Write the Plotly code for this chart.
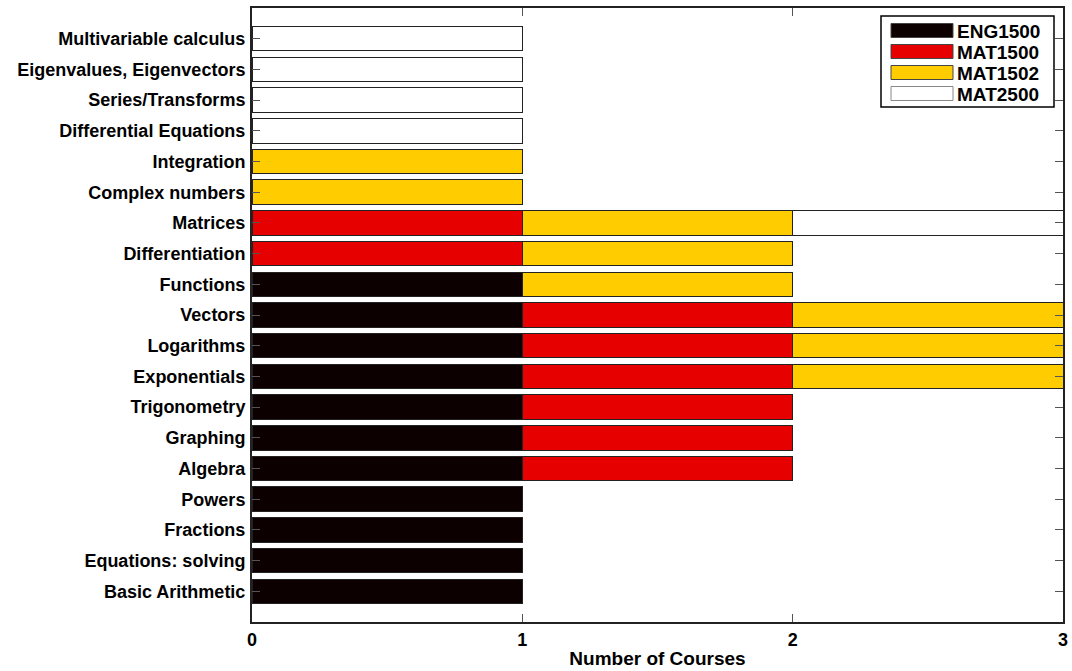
import plotly.graph_objects as go

categories = ["Basic Arithmetic", "Equations: solving", "Fractions", "Powers", "Algebra",
              "Graphing", "Trigonometry", "Exponentials", "Logarithms", "Vectors",
              "Functions", "Differentiation", "Matrices", "Complex numbers", "Integration",
              "Differential Equations", "Series/Transforms", "Eigenvalues, Eigenvectors",
              "Multivariable calculus"]
eng1500 = [1, 1, 1, 1, 1, 1, 1, 1, 1, 1, 1, 0, 0, 0, 0, 0, 0, 0, 0]
mat1500 = [0, 0, 0, 0, 1, 1, 1, 1, 1, 1, 0, 1, 1, 0, 0, 0, 0, 0, 0]
mat1502 = [0, 0, 0, 0, 0, 0, 0, 1, 1, 1, 1, 1, 1, 1, 1, 0, 0, 0, 0]
mat2500 = [0, 0, 0, 0, 0, 0, 0, 0, 0, 0, 0, 0, 1, 0, 0, 1, 1, 1, 1]
series_names = ["ENG1500", "MAT1500", "MAT1502", "MAT2500"]
series_vals = [eng1500, mat1500, mat1502, mat2500]
colors = ["#0d0000", "#e60000", "#ffcc00", "#ffffff"]
x_ticks = [0, 1, 2, 3]

font = "Liberation Sans, Arial, sans-serif"
ypos = list(range(len(categories)))

FW, FH = 1072, 671
PL, PT, PR, PB = 252, 8, 1063, 622   # plot area in page pixels

fig = go.Figure()
for name, vals, col in zip(series_names, series_vals, colors):
    fig.add_trace(go.Bar(
        y=ypos, x=vals, name=name, orientation="h",
        marker=dict(color=col, line=dict(color="#222222", width=1)),
        showlegend=False,
    ))

fig.update_layout(
    barmode="stack", bargap=0.2,
    width=FW, height=FH,
    margin=dict(l=PL, r=FW - PR, t=PT, b=FH - PB, pad=0),
    plot_bgcolor="white", paper_bgcolor="white",
    font=dict(family=font, size=15, color="black"),
    xaxis=dict(range=[0, 3], tickvals=x_ticks, ticks="inside", ticklen=8,
               tickcolor="#555555", showline=True, linecolor="#222222", linewidth=2,
               mirror="ticks", showgrid=False, zeroline=False, automargin=False,
               ticklabeloverflow="allow",
               tickfont=dict(size=18, family=font, weight="bold"),
               title=dict(text="<b>Number of Courses</b>", font=dict(size=19), standoff=3)),
    yaxis=dict(range=[-1, 19], tickvals=ypos, ticktext=["<b>%s</b>" % c for c in categories],
               ticks="inside", ticklen=8, tickcolor="#555555", showline=True,
               linecolor="#222222", linewidth=2, mirror="ticks", showgrid=False,
               zeroline=False, automargin=False, ticklabelstandoff=1,
               tickfont=dict(size=18, family=font)),
)

# legend drawn manually (wide swatches), positions given in page pixels
pw = PR - PL
ph = PB - PT
def px(x): return (x - PL) / pw
def py(y): return 1 - (y - PT) / ph

lx0, ly0, lx1, ly1 = 881, 16, 1054, 107
fig.add_shape(type="rect", xref="paper", yref="paper",
              x0=px(lx0), x1=px(lx1), y0=py(ly1), y1=py(ly0),
              line=dict(color="black", width=1.5), fillcolor="white")
for i, (name, col) in enumerate(zip(series_names, colors)):
    yc = 30.5 + i * 21
    fig.add_shape(type="rect", xref="paper", yref="paper",
                  x0=px(891), x1=px(953), y0=py(yc + 7), y1=py(yc - 7),
                  line=dict(color="#444444" if i < 3 else "#888888", width=1), fillcolor=col)
    fig.add_annotation(xref="paper", yref="paper", x=px(955), y=py(yc + 1), text="<b>%s</b>" % name,
                       showarrow=False, xanchor="left", yanchor="middle",
                       font=dict(size=19, family=font, color="black"))

fig.write_html("out.html", config={"displayModeBar": False},
               post_script="document.body.style.margin='0';document.body.style.overflow='hidden';")
